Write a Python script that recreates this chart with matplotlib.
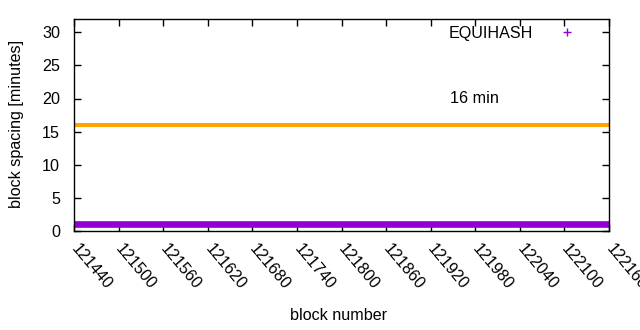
import matplotlib.pyplot as plt
import numpy as np

plt.rcParams["font.family"] = ["Liberation Sans", "DejaVu Sans"]
plt.rcParams["font.size"] = 11.6

# values
block_range = [121440, 122160]
equihash_spacing = [1.0, 1.0]
target_spacing = 16
target_label = "16 min"
xticks = list(range(121440, 122161, 60))
yticks = [0, 5, 10, 15, 20, 25, 30]

purple = "#9400d3"
orange = "#ffa500"

fig = plt.figure(figsize=(6.4, 3.3), dpi=100)
ax = fig.add_axes([74/640, 1 - 231/330, (609 - 74)/640, (231 - 19)/330])

# dense '+' points look like a solid band
ax.plot(block_range, equihash_spacing, color=purple, lw=4.8, solid_capstyle="butt", clip_on=False)
ax.axhline(target_spacing, color=orange, lw=2.9)
ax.text(121946, 20, target_label, ha="left", va="center")

ax.set_xlim(block_range)
ax.set_ylim(0, 32)
ax.set_xticks(xticks)
ax.set_yticks(yticks)
ax.set_xticklabels([str(t) for t in xticks], rotation=-50, ha="left", va="center", rotation_mode="anchor")
ax.tick_params(direction="in", top=True, right=True, length=5, width=1)
ax.tick_params(axis="x", pad=11)
ax.tick_params(axis="y", pad=10)
for s in ax.spines.values():
    s.set_linewidth(1)

fig.text(339/640, 1 - 316/330, "block number", ha="center", va="center")
fig.text(17/640, 1 - 124/330, "block spacing [minutes]", ha="center", va="center", rotation=90)

# legend key, gnuplot style
ax.text(0.858, 0.93, "EQUIHASH", transform=ax.transAxes, ha="right", va="center")
ax.plot([0.921], [0.939], transform=ax.transAxes, marker="+", color=purple, ms=5.5, mew=1, ls="none")

plt.savefig("out.png", dpi=100)
